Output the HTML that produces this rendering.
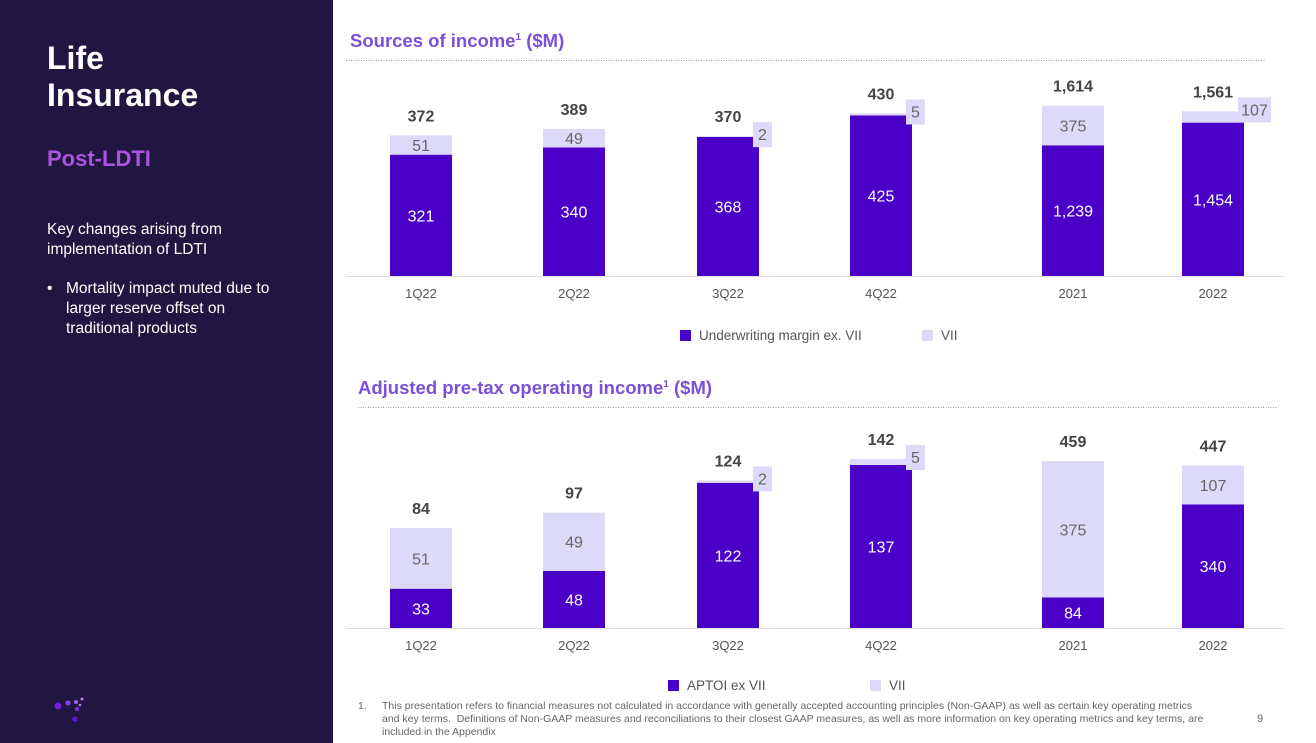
<!DOCTYPE html>
<html><head><meta charset="utf-8">
<style>
body{margin:0;width:1316px;height:743px;overflow:hidden;background:#fff;font-family:"Liberation Sans",sans-serif;position:relative}
#left{position:absolute;left:0;top:0;width:333px;height:743px;background:#211641;color:#fff}
.t{position:absolute}
svg{position:absolute;left:0;top:0}
</style></head><body>
<div id="left">
<div class="t" style="left:47px;top:40px;font-size:32px;font-weight:bold;line-height:37px">Life<br>Insurance</div>
<div class="t" style="left:47px;top:146px;font-size:22px;font-weight:bold;color:#a955e0">Post-LDTI</div>
<div class="t" style="left:47px;top:220px;font-size:15.5px;line-height:20px">Key changes arising from<br>implementation of LDTI</div>
<div class="t" style="left:47px;top:279px;font-size:15.5px;line-height:20px">•</div>
<div class="t" style="left:66px;top:279px;font-size:15.5px;line-height:20px">Mortality impact muted due to<br>larger reserve offset on<br>traditional products</div>
<svg width="100" height="743">
<circle cx="58" cy="706" r="3.5" fill="#6a1ee0"/><circle cx="68" cy="703" r="2.6" fill="#8a3ee8"/><circle cx="76" cy="702" r="2" fill="#a060ea"/><circle cx="82" cy="699" r="1.5" fill="#c080f0"/><circle cx="80" cy="705" r="1.3" fill="#c080f0"/><circle cx="77" cy="709" r="2" fill="#7a30e6"/><circle cx="75" cy="719" r="2.8" fill="#5a14d8"/>
</svg>
</div>
<div class="t" style="left:350px;top:30px;font-size:18.5px;font-weight:bold;color:#7b4fd6">Sources of income<sup style="font-size:10px">1</sup> ($M)</div>
<div class="t" style="left:358px;top:377px;font-size:18.5px;font-weight:bold;color:#7b4fd6">Adjusted pre-tax operating income<sup style="font-size:10px">1</sup> ($M)</div>
<div class="t" style="left:358px;top:700px;font-size:10.5px;color:#666;line-height:13px">1.</div>
<div class="t" style="left:382px;top:700px;width:830px;font-size:10.5px;color:#666;line-height:13px">This presentation refers to financial measures not calculated in accordance with generally accepted accounting principles (Non-GAAP) as well as certain key operating metrics and key terms.&nbsp; Definitions of Non-GAAP measures and reconciliations to their closest GAAP measures, as well as more information on key operating metrics and key terms, are included in the Appendix</div>
<div class="t" style="left:1257px;top:713px;font-size:11px;color:#666">9</div>
<svg id="ch" width="1316" height="743"></svg>
<script>
const qCats=["1Q22","2Q22","3Q22","4Q22"];
const yCats=["2021","2022"];
const soiUw=[321,340,368,425];
const soiVii=[51,49,2,5];
const soiUwY=[1239,1454];
const soiViiY=[375,107];
const apUw=[33,48,122,137];
const apVii=[51,49,2,5];
const apUwY=[84,340];
const apViiY=[375,107];
const DARK="#4b00c8",LIGHT="#dcdaf8";
const svg=document.getElementById('ch');
const NS="http://www.w3.org/2000/svg";
function el(t,a,txt){const e=document.createElementNS(NS,t);for(const k in a)e.setAttribute(k,a[k]);if(txt!==undefined)e.textContent=txt;svg.appendChild(e);return e;}
function fmt(v){return v.toLocaleString('en-US');}
const qX=[421,574,728,881],yX=[1073,1213];
function chart(base,cats,xs,uw,vii,scale,prefix){
  const y=v=>base-v*scale;
  cats.forEach((c,i)=>{
    const cx=xs[i],w=62,x=cx-31;
    const r1=el('rect',{x:x,y:y(uw[i]),width:w,height:base-y(uw[i]),fill:DARK});
    
    
    const r2=el('rect',{x:x,y:y(uw[i]+vii[i]),width:w,height:vii[i]*scale,fill:LIGHT});
    
    
    const uh=base-y(uw[i]);
    const t1=el('text',{x:cx,y:y(uw[i])+uh/2+6,'text-anchor':'middle','font-size':16,fill:'#fff'},fmt(uw[i]));
    
    
    const vh=vii[i]*scale;
    if(vh>=18){
      const t2=el('text',{x:cx,y:y(uw[i]+vii[i])+vh/2+6,'text-anchor':'middle','font-size':16,fill:'#666'},fmt(vii[i]));
      
      
    }else{
      const s=String(vii[i]),bw=s.length>1?33:19,by=y(uw[i]+vii[i])-12;
      const b=el('rect',{x:x+w-6,y:by-2,width:bw,height:25,fill:LIGHT});
      
      
      const t2=el('text',{x:x+w-6+bw/2,y:by+16,'text-anchor':'middle','font-size':16,fill:'#666'},s);
      
      
    }
    const t3=el('text',{x:cx,y:y(uw[i]+vii[i])-14,'text-anchor':'middle','font-size':16,'font-weight':'bold',fill:'#444'},fmt(uw[i]+vii[i]));
    
    
    const t4=el('text',{x:cx,y:base+22,'text-anchor':'middle','font-size':13,fill:'#555'},c);
    
    
  });
}
let l;
l=el('line',{x1:346,x2:1266,y1:60.5,y2:60.5,stroke:'#999','stroke-dasharray':'1 1.5'});

l=el('line',{x1:358,x2:1278,y1:407.5,y2:407.5,stroke:'#999','stroke-dasharray':'1 1.5'});

l=el('line',{x1:346,x2:1285,y1:276.5,y2:276.5,stroke:'#ddd'});

l=el('line',{x1:346,x2:1285,y1:628.5,y2:628.5,stroke:'#ddd'});

chart(276,qCats,qX,soiUw,soiVii,0.378,'soi');
chart(276,yCats,yX,soiUwY,soiViiY,0.1055,'soi-annual');
chart(628,qCats,qX,apUw,apVii,1.19,'aptoi');
chart(628,yCats,yX,apUwY,apViiY,0.3635,'aptoi-annual');
function legend(x,y,col,txt,name){
  const r=el('rect',{x:x,y:y-10,width:11,height:11,fill:col});
  
  const t=el('text',{x:x+19,y:y,'font-size':13.5,fill:'#555'},txt);
  
}
legend(680,340,DARK,'Underwriting margin ex. VII','legend-underwriting');
legend(922,340,LIGHT,'VII','legend-vii-top');
legend(668,690,DARK,'APTOI ex VII','legend-aptoi');
legend(870,690,LIGHT,'VII','legend-vii-bottom');
</script>
</body></html>
